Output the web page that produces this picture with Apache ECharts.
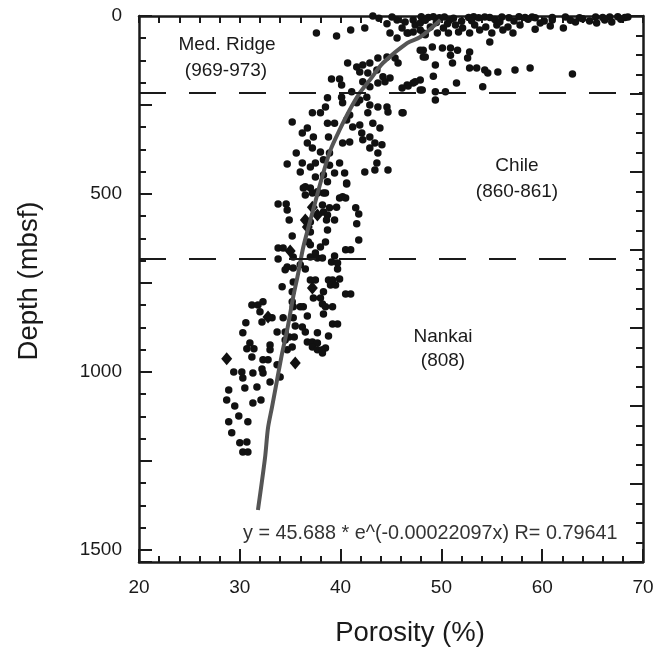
<!DOCTYPE html>
<html>
<head>
<meta charset="utf-8">
<script src="https://cdn.jsdelivr.net/npm/echarts@6/dist/echarts.min.js"></script>
<style>
html,body{margin:0;padding:0;background:#fff;}
#chart{width:666px;height:662px;}
</style>
</head>
<body>
<div id="chart"></div>
<script>
// ---- data: [porosity %, depth mbsf] ----
const surfacePoints = [
  [48.0,2],[48.7,4],[49.2,2],[49.8,5],[50.3,3],[52.7,4],[53.2,2],[53.7,5],[54.3,3],[54.8,4],[56.0,3],[56.7,5],[57.7,2],[58.3,4],[59.0,3],[59.3,5],[61.0,4],[62.3,3],[63.7,5],[65.3,3],[66.0,4],[66.7,3],[67.5,2],[68.2,4],[68.5,3],
  [43.2,0],[43.8,6],[45.6,11],[46.4,17],[47.2,11],
  [46.1,34],[46.7,48],[47.4,25],[47.9,39],[48.4,53],[48.9,31],[49.6,48],[50.2,34],[50.7,48],[51.4,25],[51.7,45],[52.1,34],[52.8,48],[53.3,25],[53.8,39],[54.4,31],[55.0,48],[55.5,25],[56.1,39],[56.6,31],[57.1,48],[57.8,25],[59.3,37],[59.8,20],[61.0,11],[62.1,34],[63.3,17],[64.7,14],[65.4,20],[66.2,11],[66.9,17],
  [46.6,48],[47.2,45],[47.9,20],[48.2,48],[44.9,48],[45.6,62],[42.4,34],[41.0,39],[39.6,56],[37.6,48],
  [50.8,12],[51.2,6],[52.0,15],[55.3,10],[57.2,14],[58.6,9],[60.2,14],[44.6,22],[45.1,3],[60.8,28],[64.0,8],[67.8,9],[62.8,12],[55.8,16],[53.0,13],[49.5,18],[48.4,12],[50.6,22]
];
const medRidgePoints = [
  [48.2,96],[49.1,87],[50.1,90],[50.9,90],[51.6,96],[52.8,101],[48.2,115],[50.9,110],[52.6,118],[49.4,138],[51.1,132],[52.8,146],[53.5,146],[54.3,152],[54.6,160],[55.6,157],[57.3,152],[58.8,146],[63.0,163],[49.2,169],[51.5,188],[54.1,199],[47.2,188],[47.9,180],[46.7,197],[48.1,208],[49.4,213],[50.4,213],[54.8,73],[47.9,96],[48.4,115],
  [40.7,132],[41.6,143],[42.2,138],[42.9,132],[43.7,118],[44.6,115],[45.4,118],[45.7,132],[41.9,157],[42.7,160],[43.6,152],[44.2,171],[44.9,174],[39.1,177],[39.9,177],[40.1,194],[42.2,185],[42.9,199],[43.7,188],[44.4,185],[46.6,194],[47.4,185],[47.9,208],[46.1,202],[41.1,213]
];
const chilePoints = [
  [49.4,236],[46.1,272],[38.7,230],[40.1,228],[41.9,236],[42.6,228],[40.2,244],[41.6,244],[42.9,250],[43.7,256],[44.6,256],[38.5,256],[37.2,272],[38.0,272],[40.9,278],[42.7,272],[44.7,270],[46.2,272],[35.2,298],[38.7,301],[39.4,301],[40.6,292],[41.2,312],[41.9,306],[43.2,301],[43.9,315],[36.7,315],[36.2,329],[42.1,329],[42.9,340],[37.3,340],[38.8,340],[40.2,357],[40.9,354],[42.2,348],[43.4,357],[44.1,362],[36.7,357],[37.2,371],[38.0,382],[38.9,385],[42.9,371],[43.7,385],[35.6,385],[34.7,416],[36.2,413],[37.5,413],[38.3,404],[38.9,419],[39.9,413],[43.6,413],[36.0,438],[37.0,424],[39.4,441],[40.4,441],[42.4,438],[43.4,433],[44.7,433],[37.5,452],[38.3,447],[40.6,469],[36.3,483],[37.0,483],[37.7,494],[38.3,497],[37.2,497],[40.2,508],
  [36.5,480],[38.7,466],[40.6,472],[36.5,503],[37.7,497],[38.5,497],[39.9,511],[40.5,511],[33.8,528],[34.6,528],[34.7,545],[38.2,531],[38.3,551],[38.9,539],[39.6,537],[41.5,539],[41.8,556],[38.7,559],[37.0,579],[38.6,573],[39.4,573],[34.9,573],[37.0,607],[38.7,601],[41.6,584],[35.2,618],[36.8,635],[38.5,635],[41.8,629],[33.8,652],[34.3,652],[37.0,643],[38.0,649],[37.5,666],[40.5,657],[41.0,657],[39.4,674],[33.8,683],[35.3,677],[37.0,677],[37.7,680],[38.2,680]
];
const nankaiPoints = [
  [39.1,691],[39.7,694],[34.7,705],[35.3,708],[36.0,699],[36.5,711],[39.7,711],[34.5,713],[37.0,742],[37.5,742],[38.8,742],[39.2,742],[39.9,739],[39.0,756],[39.5,756],[35.3,747],[34.2,761],[38.3,775],[35.2,775],[40.5,781],[41.0,781],[37.3,792],[38.0,792],[35.2,803],[32.3,803],[31.2,812],[31.8,812],[38.2,809],[35.3,817],[36.0,817],[36.3,817],[38.5,817],[39.2,817],[32.0,831],[38.3,837],[36.7,843],[34.3,848],[35.3,848],[32.2,860],[33.2,848],[30.6,862],[39.2,865],[39.7,865],[35.5,871],[36.2,874],[36.5,888],[30.3,890],[33.7,888],[34.5,888],[37.7,890],[38.8,899],[34.9,902],[35.4,902],[34.5,910],[36.7,916],[37.2,916],[37.7,919],[31.0,919],[33.0,924],[30.7,935],[31.4,935],[33.0,938],[35.2,930],[34.7,938],[37.2,930],[37.7,938],[38.2,938],[38.5,933],[38.2,947],[31.2,958],[32.3,966],[32.8,966],[33.7,980],[32.2,992],[29.4,1000],[30.2,1000],[31.3,1003],[32.3,1003],[30.3,1017],[34.0,1014],[33.0,1028],[30.5,1045],[31.7,1042],[28.9,1051],[28.7,1079],[29.5,1096],[31.3,1087],[32.1,1079],[29.9,1124],[28.9,1140],[30.8,1140],[29.2,1171],[30.0,1199],[30.7,1197],[30.3,1225],[30.8,1225]
];
const diamondPoints = [[37.2,537],[37.7,559],[36.5,573],[36.7,593],[35.0,660],[37.2,764],[32.8,846],[28.7,963],[35.5,975]];
const fitCurve = [
  [49.9,11],[47.9,59],[46.6,76],[44.2,132],[42.9,180],[41.9,216],[40.9,264],[39.9,320],[39.0,376],[38.2,449],[37.2,553],[36.3,649],[35.8,722],[35.3,789],[34.7,882],[34.2,947],[33.7,1022],[33.2,1098],[32.8,1157],[32.5,1242],[31.8,1388]
];
const boundaryDepths = [215, 683];
const depthTickLabels = [0, 500, 1000, 1500];
const porosityTickLabels = [20, 30, 40, 50, 60, 70];
const regionLabels = [
  {lines: ['Med. Ridge', '(969-973)']},
  {lines: ['Chile', '(860-861)']},
  {lines: ['Nankai', '(808)']}
];
const equationText = 'y = 45.688 * e^(-0.00022097x) R= 0.79641';

// ---- chart ----
const FONT = '"Liberation Sans", Arial, Helvetica, sans-serif';
const INK = '#1a1a1a';
const chart = echarts.init(document.getElementById('chart'), null, {renderer: 'canvas'});

const axisLineStyle = {color: INK, width: 2.5};
const baseX = {type: 'value', min: 20, max: 70, splitLine: {show: false}};
const baseY = {type: 'value', inverse: true, splitLine: {show: false}};

const labelPos = [[227,45,226,71],[517,166,517,192],[443,337,443,361]];
const graphics = [];
regionLabels.forEach((r, i) => {
  const p = labelPos[i];
  graphics.push({type:'text', x:p[0], y:p[1], style:{text:r.lines[0], font:'19px '+FONT, fill:INK, textAlign:'center', textVerticalAlign:'middle'}});
  graphics.push({type:'text', x:p[2], y:p[3], style:{text:r.lines[1], font:'19px '+FONT, fill:INK, textAlign:'center', textVerticalAlign:'middle'}});
});
graphics.push({type:'text', x:243, y:534, style:{text:equationText, font:'19.8px '+FONT, fill:'#333', textAlign:'left', textVerticalAlign:'middle'}});
graphics.push({type:'text', x:410, y:633, style:{text:'Porosity (%)', font:'27.5px '+FONT, fill:INK, textAlign:'center', textVerticalAlign:'middle'}});
graphics.push({type:'text', x:29, y:281, rotation:Math.PI/2, style:{text:'Depth (mbsf)', font:'27.5px '+FONT, fill:INK, textAlign:'center', textVerticalAlign:'middle'}});

const dotStyle = {color: '#111', opacity: 1};
const option = {
  animation: false,
  backgroundColor: '#fff',
  grid: {left: 139, right: 23, top: 16, bottom: 100, containLabel: false},
  xAxis: [
    Object.assign({}, baseX, {position:'bottom', interval:2,
      axisLine:{show:true, onZero:false, lineStyle:axisLineStyle},
      axisTick:{show:true, inside:true, length:6, lineStyle:{color:INK, width:2}},
      axisLabel:{show:true, margin:16, fontSize:19, fontFamily:FONT, color:INK,
        formatter: v => porosityTickLabels.indexOf(v) >= 0 ? String(v) : ''}}),
    Object.assign({}, baseX, {position:'bottom', interval:10,
      axisLine:{show:false, onZero:false},
      axisTick:{show:true, inside:true, length:13, lineStyle:{color:INK, width:2}},
      axisLabel:{show:false}}),
    Object.assign({}, baseX, {position:'top', interval:2,
      axisLine:{show:true, onZero:false, lineStyle:axisLineStyle},
      axisTick:{show:true, inside:true, length:7, lineStyle:{color:INK, width:2}},
      axisLabel:{show:false}})
  ],
  yAxis: [
    Object.assign({}, baseY, {position:'left', min:0, max:1534, interval:62.5,
      axisLine:{show:true, onZero:false, lineStyle:axisLineStyle},
      axisTick:{show:true, inside:true, length:7, lineStyle:{color:INK, width:2}},
      axisLabel:{show:true, margin:17, fontSize:19, fontFamily:FONT, color:INK,
        formatter: v => depthTickLabels.indexOf(v) >= 0 ? String(v) : ''}}),
    Object.assign({}, baseY, {position:'left', min:0, max:1534, interval:250,
      axisLine:{show:false, onZero:false},
      axisTick:{show:true, inside:true, length:13, lineStyle:{color:INK, width:2}},
      axisLabel:{show:false}}),
    Object.assign({}, baseY, {position:'right', min:0, max:28, interval:1,
      axisLine:{show:true, onZero:false, lineStyle:axisLineStyle},
      axisTick:{show:true, inside:true, length:7, lineStyle:{color:INK, width:2}},
      axisLabel:{show:false}}),
    Object.assign({}, baseY, {position:'right', min:0, max:28, interval:4,
      axisLine:{show:false, onZero:false},
      axisTick:{show:true, inside:true, length:13, lineStyle:{color:INK, width:2}},
      axisLabel:{show:false}})
  ],
  graphic: graphics,
  series: [
    {type:'line', data:[], xAxisIndex:0, yAxisIndex:0, silent:true, z:1,
      markLine:{silent:true, symbol:['none','none'], label:{show:false},
        lineStyle:{color:INK, width:2, type:[27,23]},
        data: boundaryDepths.map(d => ({yAxis:d}))}},
    {type:'scatter', name:'surface', data:surfacePoints, symbol:'circle', symbolSize:7.5, itemStyle:dotStyle, z:3},
    {type:'scatter', name:'Med. Ridge', data:medRidgePoints, symbol:'circle', symbolSize:7.5, itemStyle:dotStyle, z:3},
    {type:'scatter', name:'Chile', data:chilePoints, symbol:'circle', symbolSize:7.5, itemStyle:dotStyle, z:3},
    {type:'scatter', name:'Nankai', data:nankaiPoints, symbol:'circle', symbolSize:7.5, itemStyle:dotStyle, z:3},
    {type:'scatter', name:'diamonds', data:diamondPoints, symbol:'diamond', symbolSize:[11,13], itemStyle:dotStyle, z:3},
    {type:'line', name:'fit', data:fitCurve, smooth:0.3, showSymbol:false, symbol:'none',
      lineStyle:{color:'#555', width:4}, z:4}
  ]
};
chart.setOption(option);
</script>
</body>
</html>
